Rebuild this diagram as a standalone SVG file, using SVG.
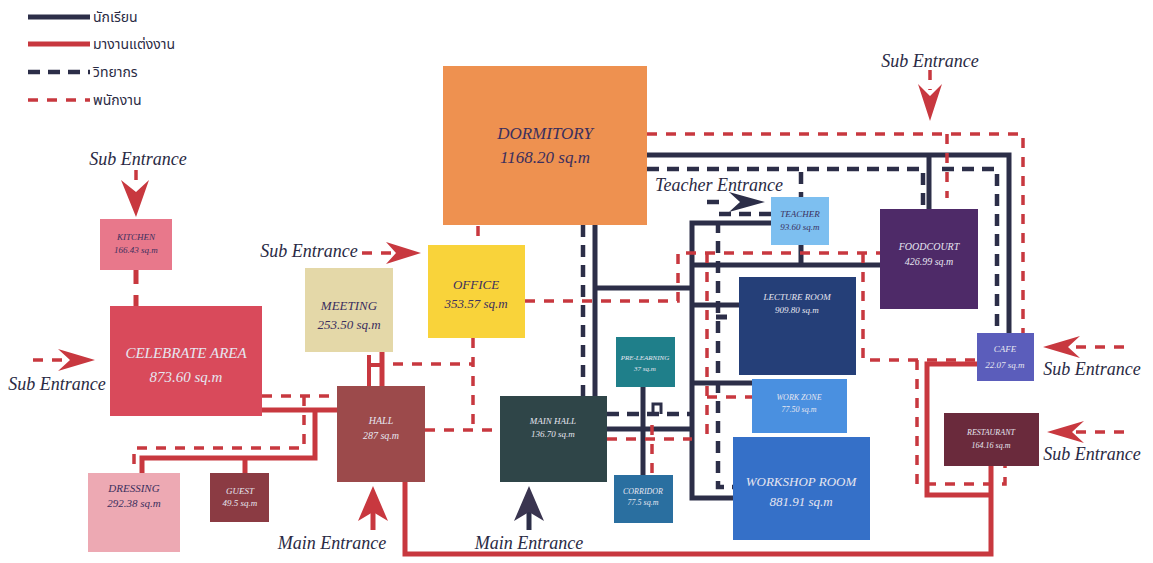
<svg xmlns="http://www.w3.org/2000/svg" width="1153" height="563" viewBox="0 0 1153 563">
<style>
.ns{stroke:#2C2E48;stroke-width:5;fill:none}
.rs{stroke:#C8383F;stroke-width:5;fill:none}
.nd{stroke:#2C2E48;stroke-width:4.5;fill:none;stroke-dasharray:12 8}
.rd{stroke:#C8383F;stroke-width:3.5;fill:none;stroke-dasharray:10 9}
.lbl{font-family:"Liberation Serif",serif;font-style:italic;text-anchor:middle}
.ent{font-family:"Liberation Serif",serif;font-style:italic;font-size:18px;fill:#2A2A44}
.leg{font-family:"Liberation Serif","Noto Sans Thai","Noto Sans",sans-serif;font-size:14px;fill:#2A2A44}
.dk{fill:#3B2F5E}
.wt{fill:#E6E6F0}
.ar{fill:#C8383F}
</style>
<rect width="1153" height="563" fill="#ffffff"/>

<g id="legend">
<line x1="28" y1="17" x2="90" y2="17" class="ns"/>
<text x="93" y="22" class="leg">นักเรียน</text>
<line x1="28" y1="44" x2="90" y2="44" class="rs"/>
<text x="93" y="49" class="leg">มางานแต่งงาน</text>
<line x1="28" y1="72" x2="90" y2="72" class="nd" stroke-dasharray="15 9"/>
<text x="93" y="77" class="leg">วิทยากร</text>
<line x1="28" y1="100" x2="90" y2="100" class="rd" stroke-dasharray="15 9"/>
<text x="93" y="105" class="leg">พนักงาน</text>
</g>

<g id="connectors">
<!-- navy solid -->
<polyline class="ns" points="647,155 1009,155 1009,333"/>
<line class="ns" x1="929" y1="155" x2="929" y2="209"/>
<line class="ns" x1="595" y1="225" x2="595" y2="396"/>
<line class="ns" x1="595" y1="288" x2="692" y2="288"/>
<polyline class="ns" points="771,223 692,223 692,498 733,498"/>
<line class="ns" x1="692" y1="305" x2="739" y2="305"/>
<line class="ns" x1="692" y1="383" x2="752" y2="383"/>
<line class="ns" x1="692" y1="265" x2="880" y2="265"/>
<line class="ns" x1="801" y1="245" x2="801" y2="265"/>
<line class="ns" x1="607" y1="429" x2="692" y2="429"/>
<line class="ns" x1="643" y1="387" x2="643" y2="475"/>
<line class="ns" x1="716" y1="317" x2="727" y2="317"/>
<!-- navy dashed -->
<polyline class="nd" points="647,169 923,169 923,209"/>
<polyline class="nd" points="942,169 997,169 997,333"/>
<line class="nd" x1="801" y1="172" x2="801" y2="197"/>
<line class="nd" x1="583" y1="225" x2="583" y2="396"/>
<polyline class="nd" points="771,214 718,214 718,487 733,487"/>
<line class="nd" x1="607" y1="414" x2="692" y2="414"/>
<polyline class="ns" style="stroke-width:3" points="653,414 653,404 661,404 661,414"/>
<!-- red solid -->
<line class="rs" x1="262" y1="410" x2="337" y2="410"/>
<polyline class="rs" points="315,410 315,458 142,458 142,473"/>
<line class="rs" x1="245" y1="458" x2="245" y2="473"/>
<line class="rs" x1="382" y1="352" x2="382" y2="386"/>
<polyline class="rs" style="stroke-width:4" points="369,355 369,386"/>
<line class="rs" style="stroke-width:4" x1="369" y1="365" x2="382" y2="365"/>
<polyline class="rs" points="405,482 405,554 991,554 991,466"/>
<polyline class="rs" points="977,364 927,364 927,495 991,495"/>
<line class="rs" x1="136" y1="270" x2="136" y2="306" stroke-dasharray="14 11"/>
<!-- red dashed -->
<polyline class="rd" points="647,134 1023,134 1023,333"/>
<line class="rd" x1="947" y1="134" x2="947" y2="198"/>
<polyline class="rd" points="525,301 678,301 678,253 880,253"/>
<polyline class="rd" points="863,253 863,360 977,360"/>
<line class="rd" x1="707" y1="253" x2="707" y2="440"/>
<line class="rd" x1="707" y1="397" x2="752" y2="397"/>
<line class="rd" x1="478" y1="226" x2="478" y2="245"/>
<line class="rd" x1="473" y1="338" x2="473" y2="430"/>
<line class="rd" x1="393" y1="364" x2="473" y2="364"/>
<line class="rd" x1="425" y1="430" x2="500" y2="430"/>
<line class="rd" x1="607" y1="439" x2="692" y2="439"/>
<line class="rd" x1="652" y1="425" x2="652" y2="475"/>
<line class="rd" x1="262" y1="396" x2="337" y2="396"/>
<polyline class="rd" points="304,396 304,448 134,448 134,473"/>
<polyline class="rd" points="917,360 917,484 1005,484 1005,463"/>
</g>

<g id="entrances">
<!-- top-left sub entrance -->
<text x="138" y="165" class="ent" text-anchor="middle">Sub Entrance</text>
<line x1="136" y1="170" x2="136" y2="186" class="rd" stroke-dasharray="9 5"/>
<polygon class="ar" points="136,217 121,180 136,192 149,180"/>
<!-- left sub entrance -->
<text x="57" y="390" class="ent" text-anchor="middle">Sub Entrance</text>
<line x1="33" y1="360" x2="62" y2="360" class="rd" stroke-dasharray="8 10"/>
<polygon class="ar" points="95,360 58,349 70,360 58,371"/>
<!-- office sub entrance -->
<text x="309" y="257" class="ent" text-anchor="middle">Sub Entrance</text>
<line x1="362" y1="253" x2="392" y2="253" class="rd" stroke-dasharray="9 9"/>
<polygon class="ar" points="421,253 386,242 396,253 386,264"/>
<!-- top-right sub entrance -->
<text x="930" y="67" class="ent" text-anchor="middle">Sub Entrance</text>
<line x1="930" y1="70" x2="930" y2="90" class="rd" stroke-dasharray="8 5"/>
<polygon class="ar" points="930,121 918,84 930,96 942,84"/>
<!-- teacher entrance -->
<text x="719" y="191" class="ent" text-anchor="middle">Teacher Entrance</text>
<line x1="707" y1="202" x2="725" y2="202" class="nd" stroke-dasharray="10 6"/>
<polygon fill="#2C2E48" points="765,202 729,192 740,202 729,212"/>
<!-- right sub entrances -->
<text x="1092" y="375" class="ent" text-anchor="middle">Sub Entrance</text>
<line x1="1076" y1="347" x2="1126" y2="347" class="rd" stroke-dasharray="9 8"/>
<polygon class="ar" points="1043,347 1080,336 1068,347 1080,358"/>
<text x="1092" y="460" class="ent" text-anchor="middle">Sub Entrance</text>
<line x1="1076" y1="432" x2="1126" y2="432" class="rd" stroke-dasharray="9 8"/>
<polygon class="ar" points="1047,432 1084,421 1072,432 1084,443"/>
<!-- main entrances -->
<text x="332" y="549" class="ent" text-anchor="middle">Main Entrance</text>
<line x1="373" y1="510" x2="373" y2="530" class="rs"/>
<polygon class="ar" points="373,486 358,521 373,512 388,521"/>
<text x="529" y="549" class="ent" text-anchor="middle">Main Entrance</text>
<line x1="529" y1="510" x2="529" y2="530" class="ns"/>
<polygon fill="#3A3550" points="529,486 514,521 529,512 544,521"/>
</g>

<g id="dormitory"><rect x="443" y="66" width="204" height="159" fill="#EE9150"/>
<text class="lbl dk" x="545" y="139" font-size="17">DORMITORY</text><text class="lbl dk" x="545" y="163" font-size="17">1168.20 sq.m</text></g>
<g id="kitchen"><rect x="100" y="219" width="72" height="51" fill="#E8788B"/>
<text class="lbl dk" x="136" y="240" font-size="9">KITCHEN</text><text class="lbl dk" x="136" y="253" font-size="9">166.43 sq.m</text></g>
<g id="celebrate"><rect x="110" y="306" width="152" height="110" fill="#D94A5B"/>
<text class="lbl wt" x="186" y="358" font-size="15">CELEBRATE AREA</text><text class="lbl wt" x="186" y="382" font-size="15">873.60 sq.m</text></g>
<g id="meeting"><rect x="305" y="268" width="88" height="84" fill="#E4D8A8"/>
<text class="lbl dk" x="349" y="310" font-size="13">MEETING</text><text class="lbl dk" x="349" y="329" font-size="13">253.50 sq.m</text></g>
<g id="office"><rect x="428" y="245" width="97" height="93" fill="#F9D33A"/>
<text class="lbl dk" x="476" y="289" font-size="13">OFFICE</text><text class="lbl dk" x="476" y="308" font-size="13">353.57 sq.m</text></g>
<g id="hall"><rect x="337" y="386" width="88" height="96" fill="#9C4A4B"/>
<text class="lbl wt" x="381" y="424" font-size="10">HALL</text><text class="lbl wt" x="381" y="439" font-size="10">287 sq.m</text></g>
<g id="dressing"><rect x="88" y="473" width="92" height="79" fill="#EDA9B3"/>
<text class="lbl dk" x="134" y="492" font-size="11">DRESSING</text><text class="lbl dk" x="134" y="507" font-size="11">292.38 sq.m</text></g>
<g id="guest"><rect x="210" y="473" width="59" height="49" fill="#8B3B43"/>
<text class="lbl wt" x="240" y="494" font-size="9">GUEST</text><text class="lbl wt" x="240" y="506" font-size="9">49.5 sq.m</text></g>
<g id="mainhall"><rect x="500" y="396" width="107" height="86" fill="#2F4548"/>
<text class="lbl wt" x="553" y="424" font-size="9">MAIN HALL</text><text class="lbl wt" x="553" y="437" font-size="9">136.70 sq.m</text></g>
<g id="prelearning"><rect x="616" y="337" width="59" height="50" fill="#1F7F8A"/>
<text class="lbl wt" x="645" y="360" font-size="7">PRE-LEARNING</text><text class="lbl wt" x="645" y="371" font-size="7">37 sq.m</text></g>
<g id="corridor"><rect x="614" y="475" width="59" height="48" fill="#2A6FA0"/>
<text class="lbl wt" x="643" y="494" font-size="8">CORRIDOR</text><text class="lbl wt" x="643" y="505" font-size="8">77.5 sq.m</text></g>
<g id="teacher"><rect x="771" y="197" width="58" height="48" fill="#7DBFF0"/>
<text class="lbl dk" x="800" y="217" font-size="9">TEACHER</text><text class="lbl dk" x="800" y="230" font-size="9">93.60 sq.m</text></g>
<g id="lecture"><rect x="739" y="277" width="117" height="98" fill="#253F78"/>
<text class="lbl wt" x="797" y="300" font-size="9">LECTURE ROOM</text><text class="lbl wt" x="797" y="313" font-size="9">909.80 sq.m</text></g>
<g id="workzone"><rect x="752" y="379" width="95" height="54" fill="#4A90E0"/>
<text class="lbl wt" x="799" y="400" font-size="8">WORK ZONE</text><text class="lbl wt" x="799" y="412" font-size="8">77.50 sq.m</text></g>
<g id="workshop"><rect x="733" y="437" width="137" height="103" fill="#3570C8"/>
<text class="lbl wt" x="801" y="486" font-size="13">WORKSHOP ROOM</text><text class="lbl wt" x="801" y="506" font-size="13">881.91 sq.m</text></g>
<g id="foodcourt"><rect x="880" y="209" width="98" height="100" fill="#4E2A68"/>
<text class="lbl wt" x="929" y="250" font-size="10">FOODCOURT</text><text class="lbl wt" x="929" y="265" font-size="10">426.99 sq.m</text></g>
<g id="cafe"><rect x="977" y="333" width="57" height="48" fill="#5B5DBB"/>
<text class="lbl wt" x="1005" y="352" font-size="9">CAFE</text><text class="lbl wt" x="1005" y="368" font-size="9">22.07 sq.m</text></g>
<g id="restaurant"><rect x="944" y="413" width="95" height="53" fill="#6A2A3C"/>
<text class="lbl wt" x="991" y="435" font-size="8">RESTAURANT</text><text class="lbl wt" x="991" y="448" font-size="8">164.16 sq.m</text></g>
</svg>
